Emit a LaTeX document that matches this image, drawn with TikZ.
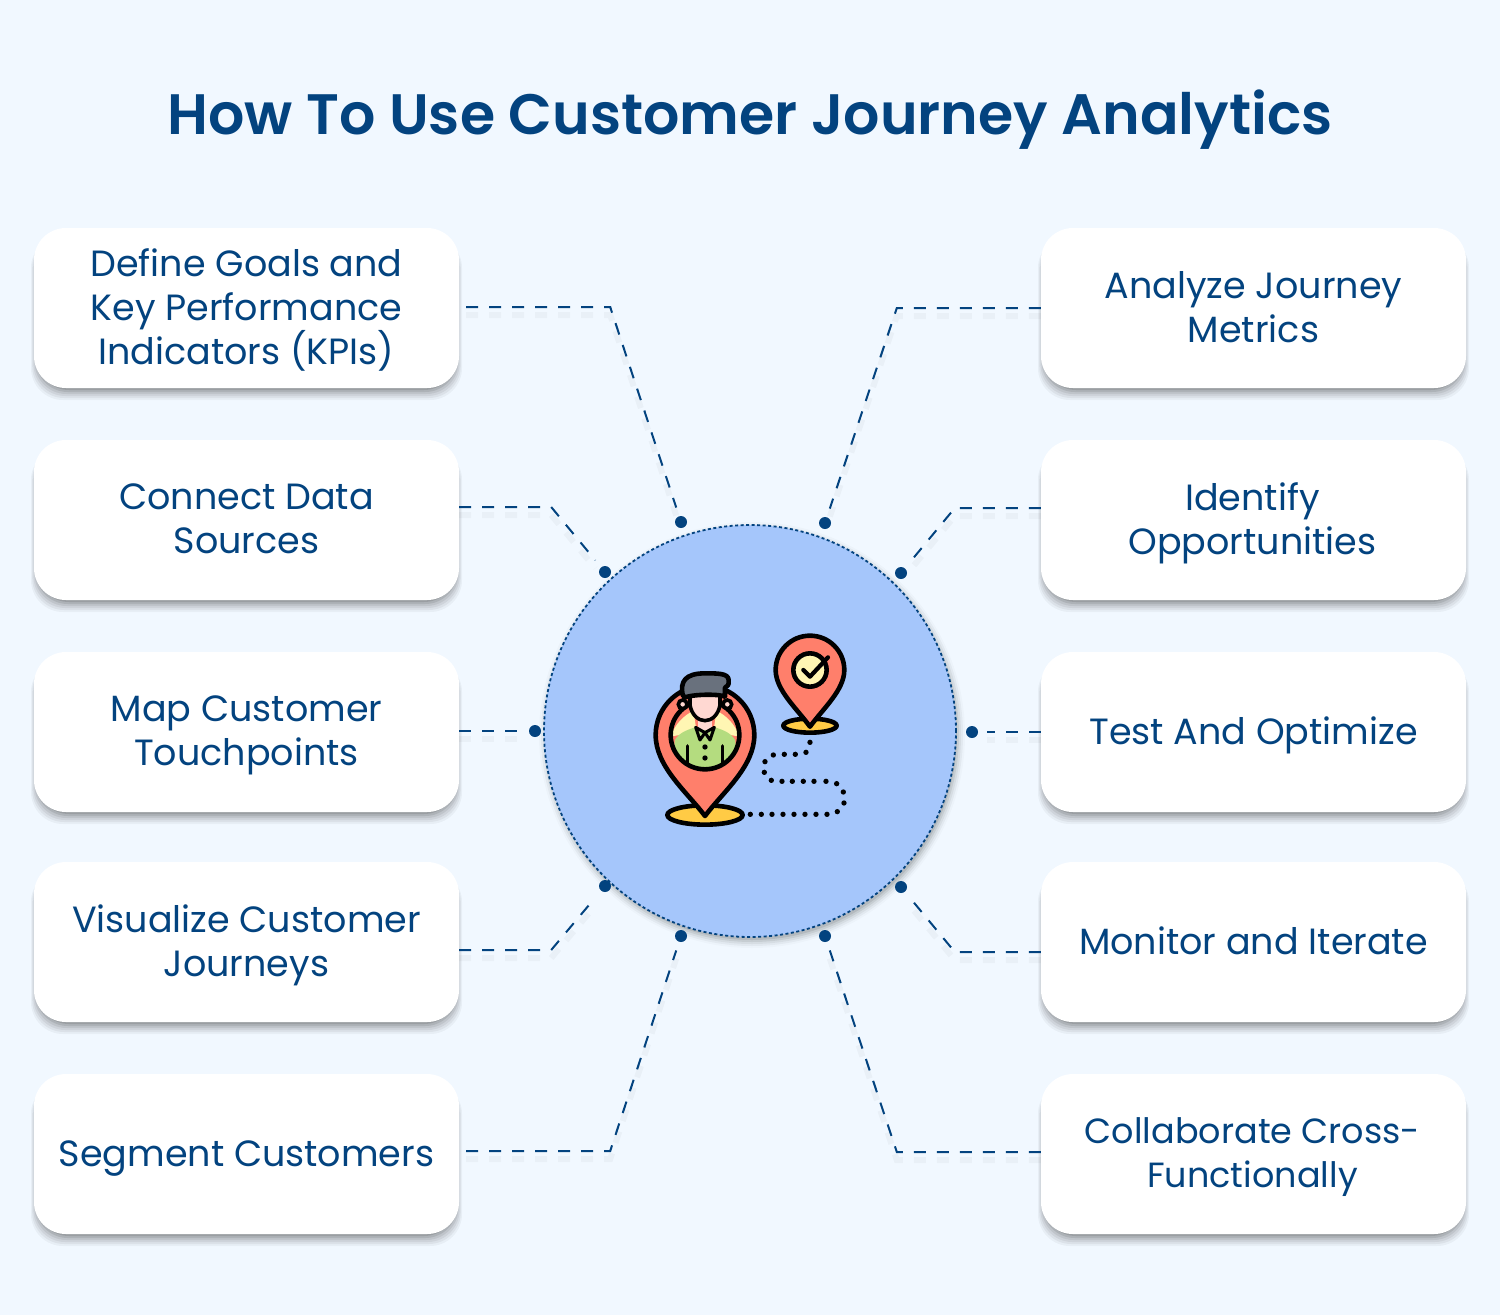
\documentclass[tikz,border=0pt]{standalone}
\usepackage{fontspec}
\setmainfont{Poppins}
\newfontfamily\titlefont{Poppins SemiBold}
\usetikzlibrary{calc}
\definecolor{bgc}{HTML}{F1F8FF}
\definecolor{navy}{HTML}{03437F}
\definecolor{disc}{HTML}{A5C6FB}
\definecolor{pin}{HTML}{FF7F6B}
\definecolor{gold}{HTML}{FFCB45}
\definecolor{cream}{HTML}{FFF6B3}
\definecolor{skin}{HTML}{FFD8D2}
\definecolor{shirt}{HTML}{B4DC7F}
\definecolor{hair}{HTML}{69717D}
\tikzset{
 x=1pt,y=-1pt,
 card/.style={fill=white,rounded corners=32pt,minimum width=425pt,minimum height=160pt,inner sep=0pt},
 cardtext/.style={inner sep=0pt,align=center,text=navy,font=\fontsize{36.5}{44}\selectfont,execute at begin node=\strut,execute at end node=\strut,yshift=-5.5pt},
 cardone/.style={cardtext,yshift=1.5pt},
 dotn/.style={circle,fill=navy,minimum size=12pt,inner sep=0pt},
 link/.style={draw=navy,line width=2pt,dash pattern=on 12pt off 11pt,shorten >=9pt},
 linkshade/.style={draw=black,opacity=.03,line width=6pt,dash pattern=on 12pt off 11pt,shorten >=9pt,transform canvas={yshift=-8pt}},
 ink/.style={draw=black,line width=4.6pt,line join=round},
}
\newcommand{\softshadow}[4]{%
 \foreach \g/\o in {10/.04,8/.05,6/.06,4/.07,2/.09,0/.11}{
  \fill[black,opacity=\o,rounded corners=32pt] ({#1+3-.6*\g},{#2+8}) rectangle ({#3-3+.6*\g},{#4+2+\g});
 }}
\begin{document}
\begin{tikzpicture}
\useasboundingbox (0,0) rectangle (1500,1315);
\fill[bgc] (0,0) rectangle (1500,1315);
\node[text=navy,font=\fontsize{57}{60}\selectfont\titlefont,anchor=base] (title) at (750,134) {How To Use Customer Journey Analytics};

% shadows
\softshadow{34}{228}{459}{388}
\softshadow{34}{440}{459}{600}
\softshadow{34}{652}{459}{812}
\softshadow{34}{862}{459}{1022}
\softshadow{34}{1074}{459}{1234}
\softshadow{1041}{228}{1466}{388}
\softshadow{1041}{440}{1466}{600}
\softshadow{1041}{652}{1466}{812}
\softshadow{1041}{862}{1466}{1022}
\softshadow{1041}{1074}{1466}{1234}

% cards
\node[card,label={[cardtext]center:{Define Goals and\\Key Performance\\Indicators (KPIs)}}] (l1) at (246.5,308) {};
\node[card,label={[cardtext]center:{Connect Data\\Sources}}] (l2) at (246.5,520) {};
\node[card,label={[cardtext]center:{Map Customer\\Touchpoints}}] (l3) at (246.5,732) {};
\node[card,label={[cardtext]center:{Visualize Customer\\Journeys}}] (l4) at (246.5,942) {};
\node[card,label={[cardone]center:{Segment Customers}}] (l5) at (246.5,1154) {};
\node[card,label={[cardtext]center:{Analyze Journey\\Metrics}}] (r1) at (1253.5,308) {};
\node[card,label={[cardtext,xshift=-1pt]center:{Identify\\Opportunities}}] (r2) at (1253.5,520) {};
\node[card,label={[cardone]center:{Test And Optimize}}] (r3) at (1253.5,732) {};
\node[card,label={[cardone]center:{Monitor and Iterate}}] (r4) at (1253.5,942) {};
\node[card,label={[cardtext,xshift=-1pt,font=\fontsize{35}{44}\selectfont]center:{Collaborate Cross-\\Functionally}}] (r5) at (1253.5,1154) {};

% disc
\foreach \g/\o in {8/.02,6/.04,4/.05,2/.07,0/.09}{
 \fill[black,opacity=\o] (752,735) circle ({205+\g});
}
\node[circle,fill=disc,draw=navy,dash pattern=on 3pt off 2.5pt,line width=1.8pt,minimum size=412pt,inner sep=0pt] (hub) at (750,731) {};

% dots
\node[dotn] (dl1) at (681,522) {};
\node[dotn] (dl2) at (605,572) {};
\node[dotn] (dl3) at (535,731) {};
\node[dotn] (dl4) at (605,886) {};
\node[dotn] (dl5) at (681,936) {};
\node[dotn] (dr1) at (825,523) {};
\node[dotn] (dr2) at (901,573) {};
\node[dotn] (dr3) at (972,732) {};
\node[dotn] (dr4) at (901,887) {};
\node[dotn] (dr5) at (825,936) {};

% connectors
\foreach \s in {linkshade,link}{
 \draw[\s] (l1.east) ++(7,-1) -- ++(144,0) -- (dl1);
 \draw[\s] (l2.east) ++(0,-13) -- ++(92,0) -- (dl2);
 \draw[\s] (l3.east) ++(0,-1) -- (dl3);
 \draw[\s] (l4.east) ++(0,8) -- ++(92,0) -- (dl4);
 \draw[\s] (l5.east) ++(7,-3) -- ++(144,0) -- (dl5);
 \draw[\s] (r1.west) -- ++(-144,0) -- (dr1);
 \draw[\s] (r2.west) ++(0,-12) -- ++(-86,0) -- (dr2);
 \draw[\s] (r3.west) -- (dr3);
 \draw[\s] (r4.west) ++(0,10) -- ++(-86,0) -- (dr4);
 \draw[\s] (r5.west) ++(0,-2) -- ++(-144,0) -- (dr5);
}

% icon, in the coordinates of a 3x crop
\begin{scope}[shift={(630,620)},x=.3333pt,y=-.3333pt]
 % route
 \foreach \a/\b in {540/367,528/397,496/403,463/403,430/405,405/425,403/457,424/481,456/484,487/484,520/484,552/484,588/484,620/491,640/516,642/549,622/575,591/583,558/583,525/583,492/583,459/583,426/583,394/583,361/583}{
  \fill[black] (\a,\b) circle (8);
 }
 % small pin
 \draw[ink,fill=gold] (540,317) ellipse (80 and 21);
 \draw[ink,fill=pin] (540,320) .. controls (500,265) and (437,210) .. (437,150)
   arc[start angle=180,end angle=360,x radius=103,y radius=103]
   .. controls (643,210) and (580,265) .. (540,320) -- cycle;
 \draw[ink,fill=cream] (540,150) circle (50);
 \draw[draw=black,line width=4.2pt,line cap=round,line join=round] (520,150) -- (540,170) -- (594,112);
 % big pin
 \draw[ink,fill=gold] (225,585) ellipse (113 and 29);
 \draw[ink,fill=pin] (225,588) .. controls (170,515) and (77,440) .. (77,345)
   arc[start angle=180,end angle=360,x radius=148,y radius=148]
   .. controls (373,440) and (280,515) .. (225,588) -- cycle;
 \begin{scope}
  \clip (225,345) circle (101);
  \fill[cream] (190,272) .. controls (165,285) and (135,310) .. (122,350) -- (200,335) -- cycle;
  \fill[cream] (260,272) .. controls (285,285) and (315,310) .. (328,350) -- (250,335) -- cycle;
  \fill[shirt] (120,460) -- (135,360) .. controls (145,340) and (170,330) .. (195,322) -- (255,322) .. controls (280,330) and (305,340) .. (315,360) -- (330,460) -- cycle;
  \draw[black,line width=3.6pt,line cap=round] (172,378) -- (172,450) (278,378) -- (278,450);
 \end{scope}
 \draw[ink] (225,345) circle (103);
 \fill[skin] (205,290) rectangle (245,330);
 \draw[black,line width=3pt,line join=round,fill=shirt] (225,338) -- (197,322) -- (210,360) -- cycle;
 \draw[black,line width=3pt,line join=round,fill=shirt] (225,338) -- (253,322) -- (240,360) -- cycle;
 \fill[black] (225,381) circle (8) (225,414) circle (8);
 % ears and head
 \draw[black,line width=3.6pt,fill=skin] (158,253) circle (13) (292,253) circle (13);
 \draw[black,line width=3.6pt,fill=skin] (180,215) -- (180,255) .. controls (185,285) and (205,302) .. (225,302) .. controls (245,302) and (265,285) .. (270,255) -- (270,215) -- cycle;
 % hair
 \draw[ink,fill=hair] (158,225) .. controls (150,185) and (165,160) .. (225,160) .. controls (265,160) and (295,160) .. (296,180) .. controls (298,195) and (292,200) .. (285,203) -- (285,230) .. controls (270,222) and (195,222) .. (165,232) -- cycle;
\end{scope}
\end{tikzpicture}
\end{document}
